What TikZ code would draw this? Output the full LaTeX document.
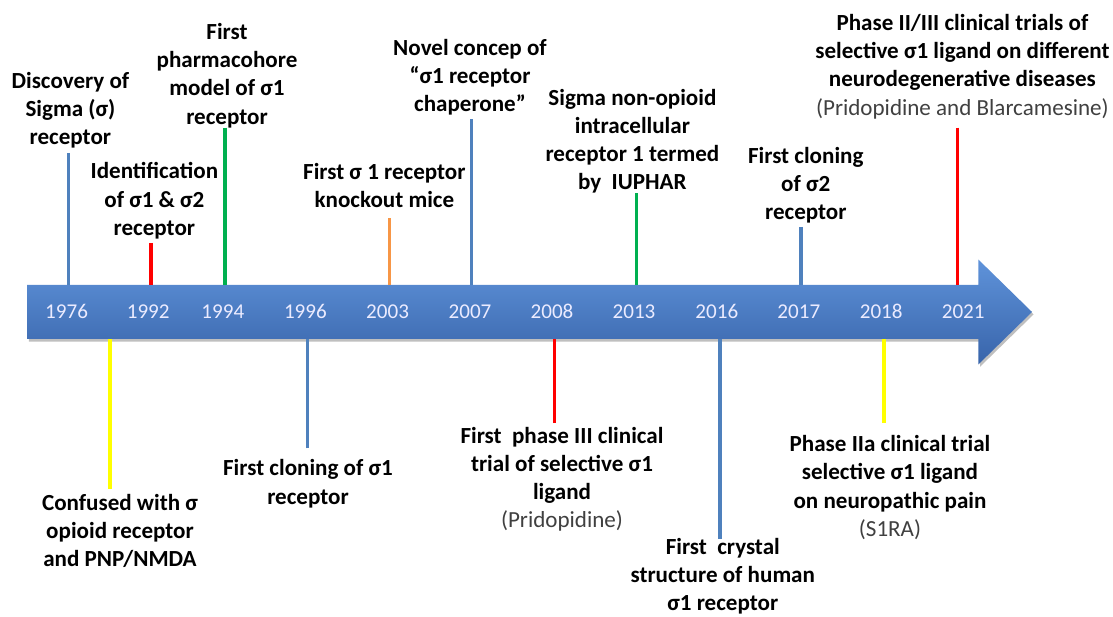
\documentclass[tikz,border=0pt]{standalone}
\usepackage{fontspec}
\setmainfont{Carlito}
\definecolor{tickblue}{HTML}{4F81BD}
\definecolor{tickred}{HTML}{FF0000}
\definecolor{tickgreen}{HTML}{00B050}
\definecolor{tickorange}{HTML}{F79646}
\definecolor{tickyellow}{HTML}{FFFF00}
\definecolor{barlight}{HTML}{5F93DA}
\definecolor{bardark}{HTML}{3864AA}
\definecolor{notegray}{HTML}{404040}
\tikzset{
    event/.style={font=\fontsize{16.4}{20.1}\selectfont\bfseries, align=center, inner sep=0pt},
    year/.style={font=\fontsize{15}{18}\selectfont, text=white!92!blue, anchor=base},
    tick/.style={line width=2.3pt},
}
\newcommand{\drugname}[1]{{\mdseries\color{notegray}#1}}

\begin{document}
\begin{tikzpicture}
    \useasboundingbox (0,-7.625) rectangle (27.825,7.8);

    % Timeline arrow
    \fill[black!25] (0.72,0.61) -- (24.5,0.61) -- (24.5,1.25) -- (25.84,-0.06) -- (24.5,-1.37) -- (24.5,-0.74) -- (0.72,-0.74) -- cycle;
    \shade[top color=barlight, bottom color=bardark]
        (0.675,0.675) -- (24.46,0.675) -- (24.46,1.31) -- (25.8,0) -- (24.46,-1.31) -- (24.46,-0.675) -- (0.675,-0.675) -- cycle;
    \coordinate (bartop) at (0,0.675);
    \coordinate (barbot) at (0,-0.675);

    % Years
    \foreach \yr/\x in {1976/1.665, 1992/3.705, 1994/5.57, 1996/7.635, 2003/9.69, 2007/11.75,
                        2008/13.8, 2013/15.85, 2016/17.92, 2017/19.97, 2018/22.03, 2021/24.08} {
        \node[year] (y\yr) at (\x,-0.17) {\yr};
    }

    % Events above the timeline
    \node[event] (disc) at (1.76,5.05) {Discovery of\\Sigma (σ)\\receptor};
    \node[event] (ident) at (3.86,2.78) {Identification\\of σ1 \& σ2\\receptor};
    \node[event] (pharm) at (5.675,5.91) {First\\pharmacohore\\model of σ1\\receptor};
    \node[event] (knock) at (9.61,3.16) {First σ 1 receptor\\knockout mice};
    \node[event] (novel) at (11.75,5.87) {Novel concep of\\“σ1 receptor\\chaperone”};
    \node[event] (iuphar) at (15.81,4.27) {Sigma non-opioid\\intracellular\\receptor 1 termed\\by~ IUPHAR};
    \node[event] (clone2) at (20.145,3.175) {First cloning\\of σ2\\receptor};
    \node[event] (trials) at (24.06,6.14) {Phase II/III clinical trials of\\selective σ1 ligand on different\\neurodegenerative diseases\\\drugname{(Pridopidine and Blarcamesine)}};

    \foreach \n/\x/\y/\c in {t1976/1.72/3.98/tickblue, t1992/3.775/1.73/tickred, t1994/5.625/4.61/tickgreen,
                             t2003/9.74/2.34/tickorange, t2007/11.79/4.82/tickblue, t2013/15.92/2.97/tickgreen,
                             t2017/20.025/2.13/tickblue, t2021/23.94/4.61/tickred} {
        \coordinate (\n) at (\x,\y);
        \draw[tick, \c] (\n) -- (\n |- bartop);
    }

    % Events below the timeline
    \node[event] (confused) at (3.0,-5.47) {Confused with σ\\opioid receptor\\and PNP/NMDA};
    \node[event] (clone1) at (7.7,-4.29) {First cloning of σ1\\receptor};
    \node[event] (phase3) at (14.05,-4.18) {First~ phase III clinical\\trial of selective σ1\\ligand\\\drugname{(Pridopidine)}};
    \node[event] (crystal) at (18.07,-6.6) {First~ crystal\\structure of human\\σ1 receptor};
    \node[event] (phase2a) at (22.25,-4.39) {Phase IIa clinical trial\\selective σ1 ligand\\on neuropathic pain\\\drugname{(S1RA)}};

    \foreach \n/\x/\y/\c in {b1976/2.75/-4.43/tickyellow, b1996/7.68/-3.41/tickblue, b2008/13.86/-2.78/tickred,
                             b2016/18.0/-5.68/tickblue, b2018/22.1/-2.78/tickyellow} {
        \coordinate (\n) at (\x,\y);
        \draw[tick, \c] (\n) -- (\n |- barbot);
    }
\end{tikzpicture}
\end{document}
